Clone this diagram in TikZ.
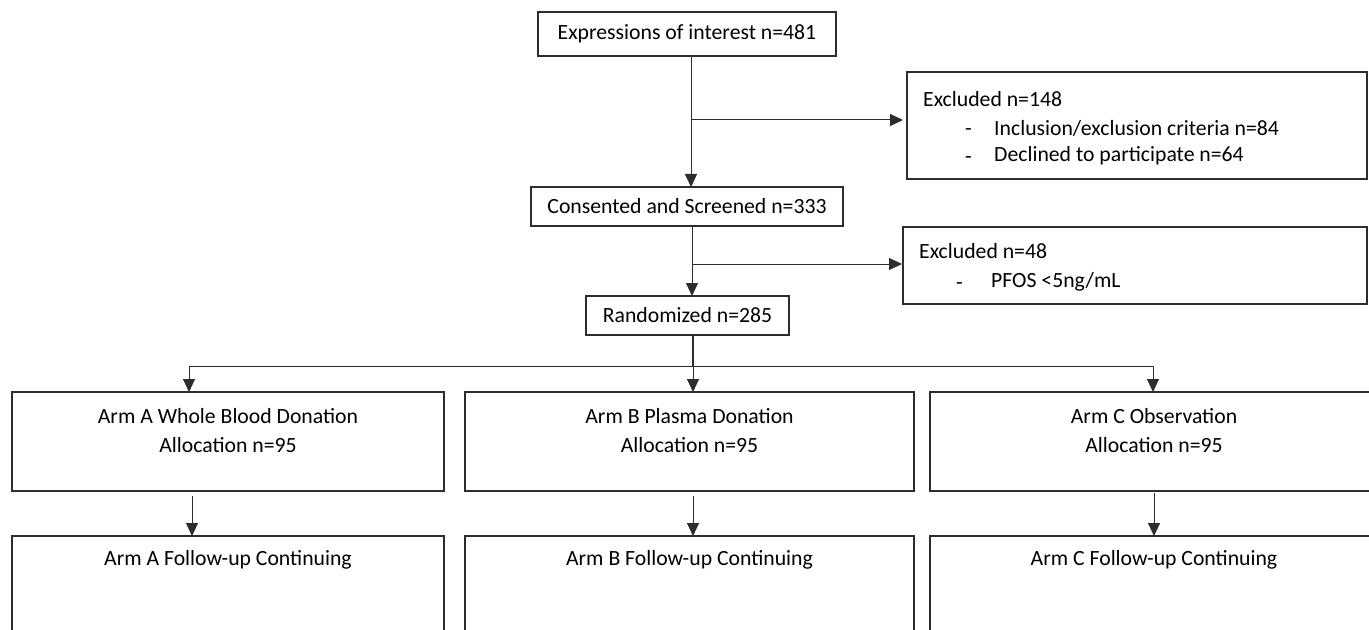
\documentclass[tikz,border=0pt]{standalone}
\usepackage{fontspec}
\setmainfont{Carlito}
\usetikzlibrary{arrows.meta}
\definecolor{linec}{RGB}{45,45,45}
\begin{document}
\begin{tikzpicture}[x=1bp,y=-1bp,
  box/.style={draw=linec, line width=1.1bp, inner sep=0pt, outer sep=0pt},
  lbl/.style={font=\fontsize{21.8}{29}\selectfont, inner sep=0pt, text=black},
  arr/.style={draw=linec, line width=1bp, -{Triangle[width=12bp,length=13bp]}},
  ln/.style={draw=linec, line width=1bp}]
\useasboundingbox (0,0) rectangle (1369,630);
% boxes
\node[box, lbl, minimum width=298bp, minimum height=44bp] (expr) at (687,34) {Expressions of interest n=481};
\node[box, lbl, minimum width=312bp, minimum height=39bp] (cons) at (687,206.5) {Consented and Screened n=333};
\node[box, lbl, minimum width=203bp, minimum height=39bp] (rand) at (687.5,315.5) {Randomized n=285};
\node[box, minimum width=460bp, minimum height=107bp] (exc1) at (1137,125.5) {};
\node[box, minimum width=464bp, minimum height=77bp] (exc2) at (1135,265.5) {};
\node[box, minimum width=432bp, minimum height=99bp] (armA) at (228,441.5) {};
\node[box, minimum width=449bp, minimum height=99bp] (armB) at (689.5,441.5) {};
\node[box, minimum width=448bp, minimum height=99bp] (armC) at (1154,441.5) {};
\node[box, minimum width=432bp, minimum height=124bp] (fuA) at (228,598) {};
\node[box, minimum width=449bp, minimum height=124bp] (fuB) at (689.5,598) {};
\node[box, minimum width=448bp, minimum height=124bp] (fuC) at (1154,598) {};
% texts
\node[lbl, anchor=west] (e1t) at (923,99) {Excluded n=148};
\node[lbl, anchor=west] (e1d1) at (965,132) {-};
\node[lbl, anchor=west] (e1i1) at (994,128) {Inclusion/exclusion criteria n=84};
\node[lbl, anchor=west] (e1d2) at (965,160) {-};
\node[lbl, anchor=west] (e1i2) at (994,156) {Declined to participate n=64};
\node[lbl, anchor=west] (e2t) at (919,251) {Excluded n=48};
\node[lbl, anchor=west] (e2d1) at (956,286) {-};
\node[lbl, anchor=west] (e2i1) at (991,282) {PFOS <5ng/mL};
\node[lbl] (aAt1) at (228,416) {Arm A Whole Blood Donation};
\node[lbl] (aAt2) at (228,445) {Allocation n=95};
\node[lbl] (aBt1) at (689.5,416) {Arm B Plasma Donation};
\node[lbl] (aBt2) at (689.5,445) {Allocation n=95};
\node[lbl] (aCt1) at (1154,416) {Arm C Observation};
\node[lbl] (aCt2) at (1154,445) {Allocation n=95};
\node[lbl] (fAt) at (228,560) {Arm A Follow-up Continuing};
\node[lbl] (fBt) at (689.5,560) {Arm B Follow-up Continuing};
\node[lbl] (fCt) at (1154,560) {Arm C Follow-up Continuing};
% connectors
\coordinate (j1) at (691,120);
\coordinate (j2) at (692,264);
\coordinate (j3) at (693,366);
\coordinate (la) at (189,366);
\coordinate (lc) at (1153,366);
\coordinate (xa) at (192,0);
\coordinate (xb) at (693,0);
\coordinate (xc) at (1154,0);
\draw[arr] (expr.south -| j1) -- (cons.north -| j1);
\draw[arr, shorten >=4bp] (j1) -- (exc1.west |- j1);
\draw[arr] (cons.south -| j2) -- (rand.north -| j2);
\draw[arr, shorten >=1bp] (j2) -- (exc2.west |- j2);
\draw[draw=linec, line width=2.8bp] (rand.south -| j3) -- (j3);
\draw[ln] (la) -- (lc);
\draw[arr] (la) -- (armA.north -| la);
\draw[arr] (j3) -- (armB.north -| j3);
\draw[arr] (lc) -- (armC.north -| lc);
\draw[arr] ([yshift=-5bp]armA.south -| xa) -- (fuA.north -| xa);
\draw[arr] ([yshift=-5bp]armB.south -| xb) -- (fuB.north -| xb);
\draw[arr] ([yshift=-2bp]armC.south -| xc) -- (fuC.north -| xc);
\end{tikzpicture}
\end{document}
